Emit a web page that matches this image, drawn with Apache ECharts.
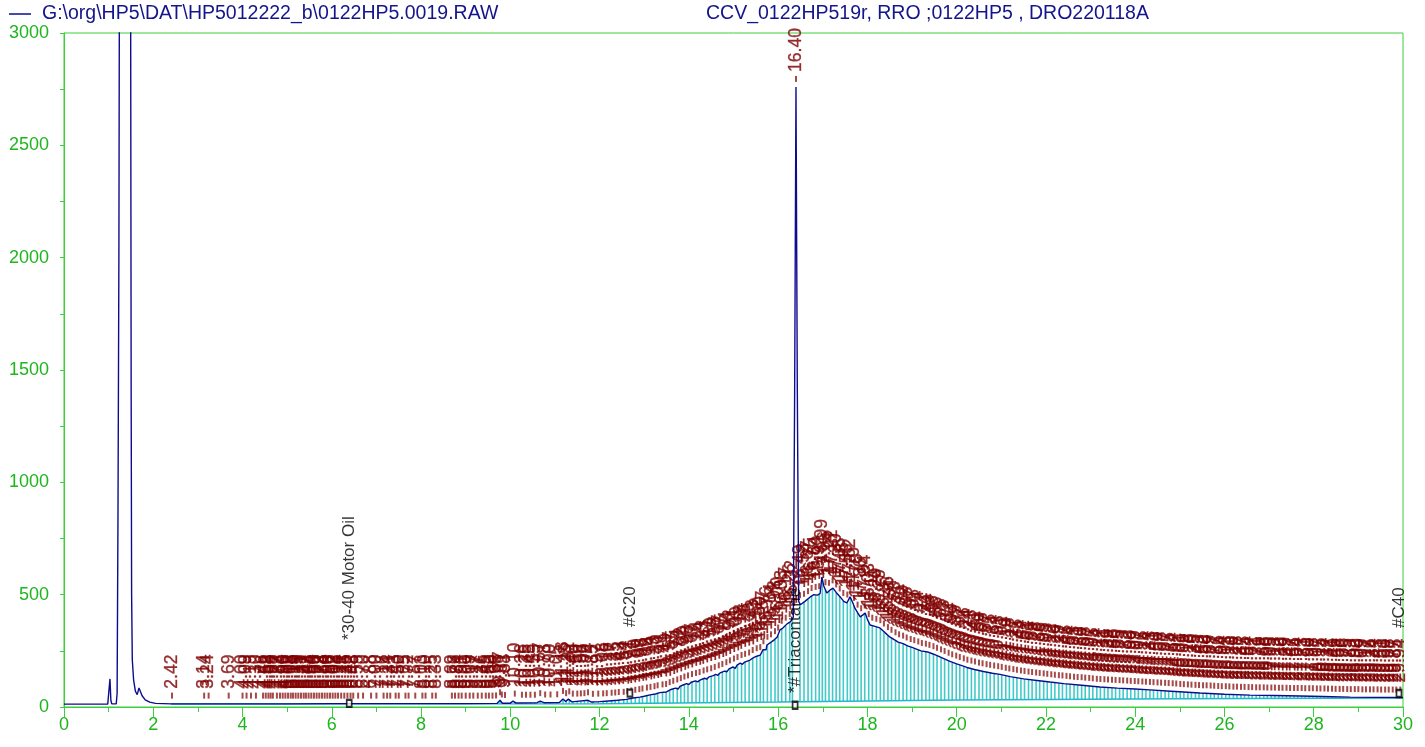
<!DOCTYPE html>
<html><head><meta charset="utf-8">
<script src="https://cdn.jsdelivr.net/npm/echarts@6/dist/echarts.min.js"></script>
<style>html,body{margin:0;padding:0;background:#fff}#chart{width:1425px;height:747px}</style>
</head><body><div id="chart"></div>
<script>
// ---- data ----
const seriesName = 'G:\\org\\HP5\\DAT\\HP5012222_b\\0122HP5.0019.RAW';
const titleText = 'CCV_0122HP519r, RRO ;0122HP5 , DRO220118A';

// detector trace [time (min), response]
const trace = [
 [0,13],[0.98,13],[1.01,16],[1.03,125],[1.05,30],[1.07,14],[1.17,14],[1.19,60],[1.21,870],[1.23,2020],
 [1.25,4200],[1.32,7000],[1.45,7000],[1.49,3600],[1.505,1380],[1.515,500],[1.53,210],[1.56,120],[1.60,70],
 [1.64,55],[1.68,85],[1.71,80],[1.75,50],[1.82,32],[1.92,22],[2.05,16],[2.4,14],[3.0,14],[4.0,14],[5.0,14],
 [6.0,15],[7.0,15],[8.0,15],[9.0,15],[9.7,16],[9.77,30],[9.82,17],[10.0,17],[10.06,26],[10.12,18],[10.6,19],
 [10.67,26],[10.75,19],[11.1,20],[11.18,36],[11.24,24],[11.3,35],[11.38,23],[11.74,30],[11.82,22],[12.0,24],
 [12.2,27],[12.4,30],[12.6,34],[12.75,40],[12.9,44],[13.0,48],[13.13,54],[13.25,58],[13.35,64],[13.5,67],
 [13.6,78],[13.7,84],[13.76,80],[13.8,92],[13.87,98],[13.95,104],[14.0,100],[14.05,110],[14.15,116],[14.2,112],[14.25,120],[14.35,128],
 [14.4,124],[14.45,134],[14.55,140],[14.6,145],[14.65,141],[14.7,152],[14.8,160],[14.85,156],[14.9,170],[14.99,178],[15.04,172],[15.08,186],[15.15,195],
 [15.2,190],[15.25,200],[15.37,209],[15.41,204],[15.45,220],[15.52,226],[15.56,221],[15.6,231],[15.66,255],[15.7,262],[15.73,255],[15.75,276],[15.85,290],
 [15.89,284],[15.92,300],[15.98,312],[16.04,343],[16.1,350],[16.2,370],[16.28,380],[16.34,400],[16.37,1400],[16.40,2760],
 [16.43,1400],[16.46,470],[16.5,455],[16.6,470],[16.64,476],[16.72,490],[16.8,500],[16.88,498],[16.94,505],
 [16.98,578],[17.02,540],[17.09,507],[17.16,520],[17.23,529],[17.3,510],[17.39,490],[17.47,470],[17.54,463],
 [17.61,490],[17.67,465],[17.72,440],[17.78,420],[17.84,401],[17.9,410],[17.95,418],[18.0,390],[18.06,365],
 [18.15,360],[18.28,352],[18.4,330],[18.5,312],[18.6,300],[18.69,289],[18.8,282],[18.9,272],[19.0,265],
 [19.1,258],[19.2,250],[19.35,245],[19.47,236],[19.6,225],[19.75,212],[19.85,203],[20.0,192],[20.1,185],
 [20.23,176],[20.4,167],[20.6,158],[20.8,150],[20.97,145],[21.2,135],[21.5,125],[21.8,118],[22.09,111],
 [22.4,104],[22.8,97],[23.21,89],[23.6,84],[24.0,80],[24.33,76],[24.8,70],[25.45,62],[26.0,57],[26.57,53],
 [27.1,51],[27.69,49],[28.2,47],[28.81,44],[29.4,43],[30.0,42]
];

// integrated peaks [retention time, apex response]
const peaks = [
 [2.42,15],[3.14,15],[3.24,15],[3.69,15],[4.00,15],[4.09,15],[4.19,15],[4.30,15],[4.46,15],[4.52,15],
 [4.58,15],[4.63,15],[4.68,15],[4.77,15],[4.84,15],[4.90,15],[4.96,15],[5.02,15],[5.08,15],[5.13,15],
 [5.19,15],[5.25,15],[5.31,15],[5.37,15],[5.42,15],[5.48,15],[5.54,15],[5.60,15],[5.66,15],[5.72,15],
 [5.78,15],[5.84,15],[5.90,15],[5.96,15],[6.02,15],[6.08,15],[6.14,15],[6.21,15],[6.28,15],[6.35,15],
 [6.42,15],[6.48,15],[6.59,15],[6.70,15],[6.88,15],[7.00,15],[7.16,15],[7.24,15],[7.31,15],[7.43,15],
 [7.50,15],[7.65,15],[7.72,15],[7.87,15],[8.03,15],[8.10,15],[8.25,15],[8.33,15],[8.69,15],[8.76,15],
 [8.84,15],[8.91,15],[9.00,15],[9.09,15],[9.17,15],[9.27,15],[9.36,15],[9.45,15],[9.52,15],[9.60,15],
 [9.68,16],[9.77,30],[9.81,20],[9.88,18],[10.10,24],[10.26,19],[10.35,19],[10.45,19],[10.55,19],[10.67,26],
 [10.78,20],[10.90,20],[11.05,21],[11.18,36],[11.25,26],[11.32,34],[11.40,24],[11.50,24],[11.58,25],[11.66,26],
 [11.74,30],[11.85,23],[11.97,24],
 [12.08,25],[12.16,26],[12.27,28],[12.35,29],[12.43,31],[12.54,32],[12.62,35],[12.71,38],[12.80,41],[12.89,44],
 [12.96,47],[13.06,51],[13.14,54],[13.23,57],[13.30,61],[13.41,65],[13.49,67],[13.57,75],[13.65,81],[13.74,87],
 [13.82,93],[13.90,100],[13.98,105],[14.07,111],[14.16,116],[14.24,120],[14.33,127],[14.41,132],[14.50,137],[14.58,143],
 [14.67,150],[14.75,156],[14.84,164],[14.92,172],[15.01,180],[15.09,187],[15.18,196],[15.26,201],[15.35,207],[15.43,218],
 [15.52,226],[15.60,231],[15.67,257],[15.76,277],[15.84,288],[15.93,302],[16.00,318],[16.08,348],[16.17,362],[16.26,378],
 [16.32,392],[16.40,2760],[16.49,462],[16.58,468],[16.67,480],[16.75,494],[16.84,499],[16.92,502],[16.99,575],[17.06,520],
 [17.14,517],[17.22,528],[17.30,510],[17.38,492],[17.46,472],[17.55,465],[17.62,488],[17.70,450],[17.78,420],[17.86,404],
 [17.94,416],[18.03,378],[18.11,362],[18.20,357],[18.29,351],[18.37,336],[18.46,320],[18.54,308],[18.63,297],[18.71,288],
 [18.80,282],[18.88,274],[18.97,267],[19.05,262],[19.14,256],[19.22,249],[19.31,246],[19.39,241],[19.48,235],[19.56,228],
 [19.65,221],[19.73,214],[19.82,206],[19.90,199],[19.99,193],[20.07,187],[20.16,181],[20.24,175],[20.33,171],[20.41,167],
 [20.50,162],[20.58,159],[20.67,155],[20.75,152],[20.84,149],[20.93,146],[21.01,143],[21.10,139],[21.18,136],[21.27,133],
 [21.35,130],[21.44,127],[21.52,125],[21.61,122],[21.69,120],[21.78,118],[21.86,116],[21.95,114],[22.03,112],[22.12,110],
 [22.20,108],[22.29,106],[22.37,105],[22.46,103],[22.54,101],[22.63,99],[22.71,98],[22.80,97],[22.88,95],[22.97,94],
 [23.05,92],[23.14,90],[23.22,89],[23.31,88],[23.39,87],[23.48,86],[23.56,85],[23.65,84],[23.73,83],[23.82,82],
 [23.90,81],[23.99,80],[24.07,79],[24.16,78],[24.24,77],[24.33,76],[24.41,75],[24.50,74],[24.58,73],[24.67,72],
 [24.75,71],[24.84,70],[24.92,69],[25.01,67],[25.09,66],[25.18,65],[25.26,64],[25.35,63],[25.43,62],[25.52,61],
 [25.60,61],[25.69,60],[25.77,59],[25.86,58],[25.94,57],[26.03,57],[26.11,56],[26.20,55],[26.28,55],[26.37,54],
 [26.45,54],[26.54,53],[26.62,53],[26.71,52],[26.79,52],[26.88,52],[26.96,51],[27.05,51],[27.13,51],[27.22,50],
 [27.30,50],[27.39,50],[27.47,49],[27.56,49],[27.64,49],[27.73,49],[27.81,48],[27.90,48],[27.98,48],[28.07,47],
 [28.15,47],[28.24,47],[28.32,46],[28.41,46],[28.49,45],[28.58,45],[28.66,45],[28.75,44],[28.83,44],[28.92,44],
 [29.00,44],[29.09,43],[29.17,43],[29.26,43],[29.34,43],[29.43,43],[29.51,42],[29.60,42],[29.68,42],[29.77,42],
 [29.85,42],[29.94,42]
];

// integration baseline
const baseline = [[2.4,13],[12,14],[16,22],[20,31],[25,37],[30,40]];

// compound annotations
const annotNames = ['*30-40 Motor Oil', '#C20', '*#Triacontane', '#C40'];
const annotT = [6.39, 12.68, 16.38, 29.91];
const annotY = [298, 356, 62, 352];
const annotMarkY = [16, 62, 8, 60];

// ---- chart ----
const FONT = "'Liberation Sans', Arial, Helvetica, sans-serif";
const GREEN_LINE = '#3ccf3c', GREEN_TEXT = '#1fb51f', NAVY = '#14148c', MAROON = '#800000';

function baseAt(t) {
  if (t <= baseline[0][0]) return baseline[0][1];
  for (let i = 1; i < baseline.length; i++) {
    if (t <= baseline[i][0]) {
      const a = baseline[i-1], b = baseline[i];
      return a[1] + (b[1]-a[1]) * (t-a[0]) / (b[0]-a[0]);
    }
  }
  return baseline[baseline.length-1][1];
}

const chart = echarts.init(document.getElementById('chart'), null, {renderer: 'canvas'});
chart.setOption({
  animation: false,
  backgroundColor: '#fff',
  textStyle: {fontFamily: FONT},
  title: {
    text: titleText, left: 706, top: 4, padding: 0,
    textStyle: {fontFamily: FONT, fontSize: 19.5, fontWeight: 'normal', color: NAVY}
  },
  legend: {
    data: [seriesName], left: 9, top: 4, padding: 0,
    icon: 'rect', itemWidth: 22, itemHeight: 1.5,
    textStyle: {fontFamily: FONT, fontSize: 19.5, color: NAVY, padding: [0,0,0,6]},
    selectedMode: false
  },
  grid: {left: 64, right: 22, top: 33, bottom: 40, show: true, borderColor: GREEN_LINE, borderWidth: 1, backgroundColor: 'transparent'},
  xAxis: {
    type: 'value', min: 0, max: 30, interval: 2,
    axisLine: {lineStyle: {color: GREEN_LINE, width: 1}},
    axisTick: {length: 10, lineStyle: {color: GREEN_LINE}},
    minorTick: {show: true, splitNumber: 2, length: 5, lineStyle: {color: GREEN_LINE}},
    axisLabel: {color: GREEN_TEXT, fontSize: 18, margin: 9, fontFamily: FONT},
    splitLine: {show: false}
  },
  yAxis: {
    type: 'value', min: 0, max: 3000, interval: 500,
    axisLine: {show: true, lineStyle: {color: GREEN_LINE, width: 1}},
    axisTick: {show: true, length: 4, lineStyle: {color: GREEN_LINE}},
    minorTick: {show: true, splitNumber: 2, length: 4, lineStyle: {color: GREEN_LINE}},
    axisLabel: {color: GREEN_TEXT, fontSize: 18, margin: 15, fontFamily: FONT, formatter: v => String(v)},
    splitLine: {show: false}
  },
  series: [
    {
      type: 'custom', name: 'area', silent: true, z: 1, clip: true,
      data: peaks,
      renderItem: function (params, api) {
        const t = api.value(0), h = api.value(1), b = baseAt(t);
        if (h <= b + 1 || h > 1000) return null; // sharp internal-standard spike is not shaded
        const p1 = api.coord([t, b]), p2 = api.coord([t, h]);
        return {type: 'line', shape: {x1: p1[0], y1: p1[1], x2: p2[0], y2: p2[1]},
                style: {stroke: '#2cc4c4', lineWidth: 1.6, opacity: 0.9}};
      }
    },
    {
      type: 'line', name: 'baseline', silent: true, z: 2, data: baseline,
      showSymbol: false, lineStyle: {color: '#22b8c8', width: 1.5}
    },
    {
      type: 'scatter', name: 'rt', silent: true, z: 3, data: peaks,
      symbol: 'rect', symbolSize: [2, 6], symbolOffset: [0, -8],
      itemStyle: {color: '#8e1c1c'},
      label: {
        show: true, position: 'top', distance: 4, rotate: 90,
        align: 'left', verticalAlign: 'middle',
        color: MAROON, fontSize: 17.5, fontFamily: FONT,
        textBorderColor: MAROON, textBorderWidth: 0.35,
        formatter: p => p.value[0].toFixed(2)
      }
    },
    {
      type: 'line', name: seriesName, z: 5, data: trace, showSymbol: false, silent: true,
      lineStyle: {color: '#0c0c8e', width: 1.4}, itemStyle: {color: '#0c0c8e'}, clip: true
    },
    {
      type: 'scatter', name: 'annotMark', silent: true, z: 6,
      data: annotT.map((t, i) => [t, annotMarkY[i]]),
      symbol: 'emptyRect', symbolSize: [5, 7], itemStyle: {color: '#000', borderColor: '#000', borderWidth: 1}
    },
    {
      type: 'scatter', name: 'annot', silent: true, z: 7,
      data: annotT.map((t, i) => [t, annotY[i]]),
      symbolSize: 0,
      label: {
        show: true, position: 'top', distance: 0, rotate: 90,
        align: 'left', verticalAlign: 'middle',
        color: '#000', fontSize: 17, fontFamily: FONT,
        formatter: p => annotNames[p.dataIndex]
      }
    }
  ],
  graphic: [
    {type: 'rect', z: 100, left: 1404, top: 540, shape: {width: 21, height: 130}, style: {fill: '#fff'}}
  ]
});
</script>
</body></html>
